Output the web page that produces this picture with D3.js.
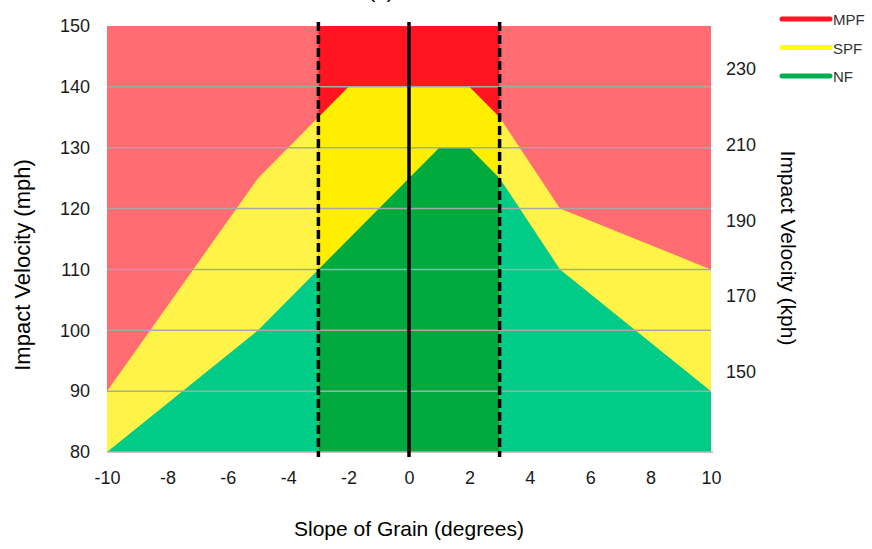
<!DOCTYPE html>
<html>
<head>
<meta charset="utf-8">
<script src="https://cdn.jsdelivr.net/npm/d3@7"></script>
<style>
  body { margin: 0; background: #fff; }
  svg { display: block; }
</style>
</head>
<body>
<svg id="chart"></svg>
<script>
// Slope of grain (degrees) and the top edge of each failure band (mph)
var slope = [-10, -5, -3, -2, 0, 1, 2, 3, 5, 10];
var nfTop = [80, 100, 110, 115, 125, 130, 130, 125, 110, 90];
var spfTop = [90, 125, 135, 140, 140, 140, 140, 135, 120, 110];
var mpfTop = [150, 150, 150, 150, 150, 150, 150, 150, 150, 150];

var xTicks = [-10, -8, -6, -4, -2, 0, 2, 4, 6, 8, 10];
var mphTicks = [80, 90, 100, 110, 120, 130, 140, 150];
var kphTicks = [150, 170, 190, 210, 230];
var zoneLines = [-3, 0, 3];

var legendNames = ["MPF", "SPF", "NF"];
var legendColors = ["#ff1424", "#ffff10", "#00b050"];

var width = 872
var height = 549

var svg = d3.select("#chart")
  .attr("width", width)
  .attr("height", height);

var x = d3.scaleLinear().domain([-10, 10]).range([107, 711]);
var y = d3.scaleLinear().domain([80, 150]).range([452, 26]);
var yKph = d3.scaleLinear().domain([80 * 1.609344, 150 * 1.609344]).range([452, 26]);

var rows = slope.map(function(s, i) {
  return {s: s, nf: nfTop[i], spf: spfTop[i], mpf: mpfTop[i]};
});

function band(key) {
  return d3.area()
    .x(function(d) { return x(d.s); })
    .y0(y(80))
    .y1(function(d) { return y(d[key]); });
}

// clip for the middle zone (-3 to 3)
svg.append("clipPath")
  .attr("id", "inner")
  .append("rect")
  .attr("x", x(-3))
  .attr("y", y(150))
  .attr("width", x(3) - x(-3))
  .attr("height", y(80) - y(150));

var outer = svg.append("g");
var inner = svg.append("g").attr("clip-path", "url(#inner)");

var outerColors = {mpf: "#ff6c72", spf: "#fff347", nf: "#00cc88"};
var innerColors = {mpf: "#ff1422", spf: "#ffee00", nf: "#00aa3c"};

["mpf", "spf", "nf"].forEach(function(k) {
  outer.append("path")
    .datum(rows)
    .attr("fill", outerColors[k])
    .attr("d", band(k));
  inner.append("path")
    .datum(rows)
    .attr("fill", innerColors[k])
    .attr("d", band(k));
});

// grid lines
svg.append("g")
  .selectAll("line")
  .data(mphTicks.filter(function(v) { return v > 80 && v < 150; }))
  .enter()
  .append("line")
  .attr("x1", x(-10))
  .attr("x2", x(10))
  .attr("y1", function(d) { return y(d); })
  .attr("y2", function(d) { return y(d); })
  .attr("stroke", "#a8a8a8")
  .attr("stroke-width", 1.5);

svg.append("line")
  .attr("x1", x(-10))
  .attr("x2", x(10) + 2)
  .attr("y1", y(80))
  .attr("y2", y(80))
  .attr("stroke", "#b0b0b0")
  .attr("stroke-width", 1.5);

// zone boundaries
svg.append("g")
  .selectAll("line")
  .data(zoneLines)
  .enter()
  .append("line")
  .attr("x1", function(d) { return x(d); })
  .attr("x2", function(d) { return x(d); })
  .attr("y1", y(150) - 4)
  .attr("y2", y(80) + 5)
  .attr("stroke", "#000")
  .attr("stroke-width", 3.5)
  .attr("stroke-dasharray", function(d) { return d == 0 ? null : "9,4"; });

// axes
var tickFont = "'Liberation Sans', Arial, sans-serif";

var left = svg.append("g")
  .attr("transform", "translate(" + (x(-10) - 17) + ",0)")
  .call(d3.axisLeft(y).tickValues(mphTicks).tickSize(0).tickPadding(0));

var right = svg.append("g")
  .attr("transform", "translate(" + (x(10) + 15) + ",0)")
  .call(d3.axisRight(yKph).tickValues(kphTicks).tickSize(0).tickPadding(0));

var bottom = svg.append("g")
  .attr("transform", "translate(0," + (y(80) + 19) + ")")
  .call(d3.axisBottom(x).tickValues(xTicks).tickSize(0).tickPadding(0)
    .tickFormat(function(d) { return d; }));

[left, right, bottom].forEach(function(g) {
  g.select(".domain").remove();
  g.selectAll("text")
    .style("font-family", tickFont)
    .style("font-size", "18px")
    .attr("fill", "#1a1a1a");
});

// axis titles
var titleFont = "'Liberation Sans', Arial, sans-serif";

svg.append("text")
  .attr("transform", "translate(30,265) rotate(-90)")
  .attr("text-anchor", "middle")
  .style("font-family", titleFont)
  .style("font-size", "22px")
  .text("Impact Velocity (mph)");

svg.append("text")
  .attr("transform", "translate(781,248) rotate(90)")
  .attr("text-anchor", "middle")
  .style("font-family", titleFont)
  .style("font-size", "21px")
  .text("Impact Velocity (kph)");

svg.append("text")
  .attr("x", 409)
  .attr("y", 536)
  .attr("text-anchor", "middle")
  .style("font-family", titleFont)
  .style("font-size", "21px")
  .text("Slope of Grain (degrees)");

// panel letter, cut off by the top edge as in the source figure
svg.append("text")
  .attr("x", 381)
  .attr("y", -2)
  .attr("text-anchor", "middle")
  .style("font-family", titleFont)
  .style("font-size", "21px")
  .text("(b)");

// legend
var legend = svg.append("g")
  .selectAll("g")
  .data(legendNames)
  .enter()
  .append("g")
  .attr("transform", function(d, i) { return "translate(782," + (19 + i * 28.5) + ")"; });

legend.append("line")
  .attr("x1", 0)
  .attr("x2", 48)
  .attr("stroke", function(d, i) { return legendColors[i]; })
  .attr("stroke-width", 5)
  .attr("stroke-linecap", "round");

legend.append("text")
  .attr("x", 51)
  .attr("y", 6)
  .style("font-family", "'Liberation Sans Narrow', 'Liberation Sans', Arial, sans-serif")
  .style("font-size", "15px")
  .attr("fill", "#333")
  .text(function(d) { return d; });
</script>
</body>
</html>
